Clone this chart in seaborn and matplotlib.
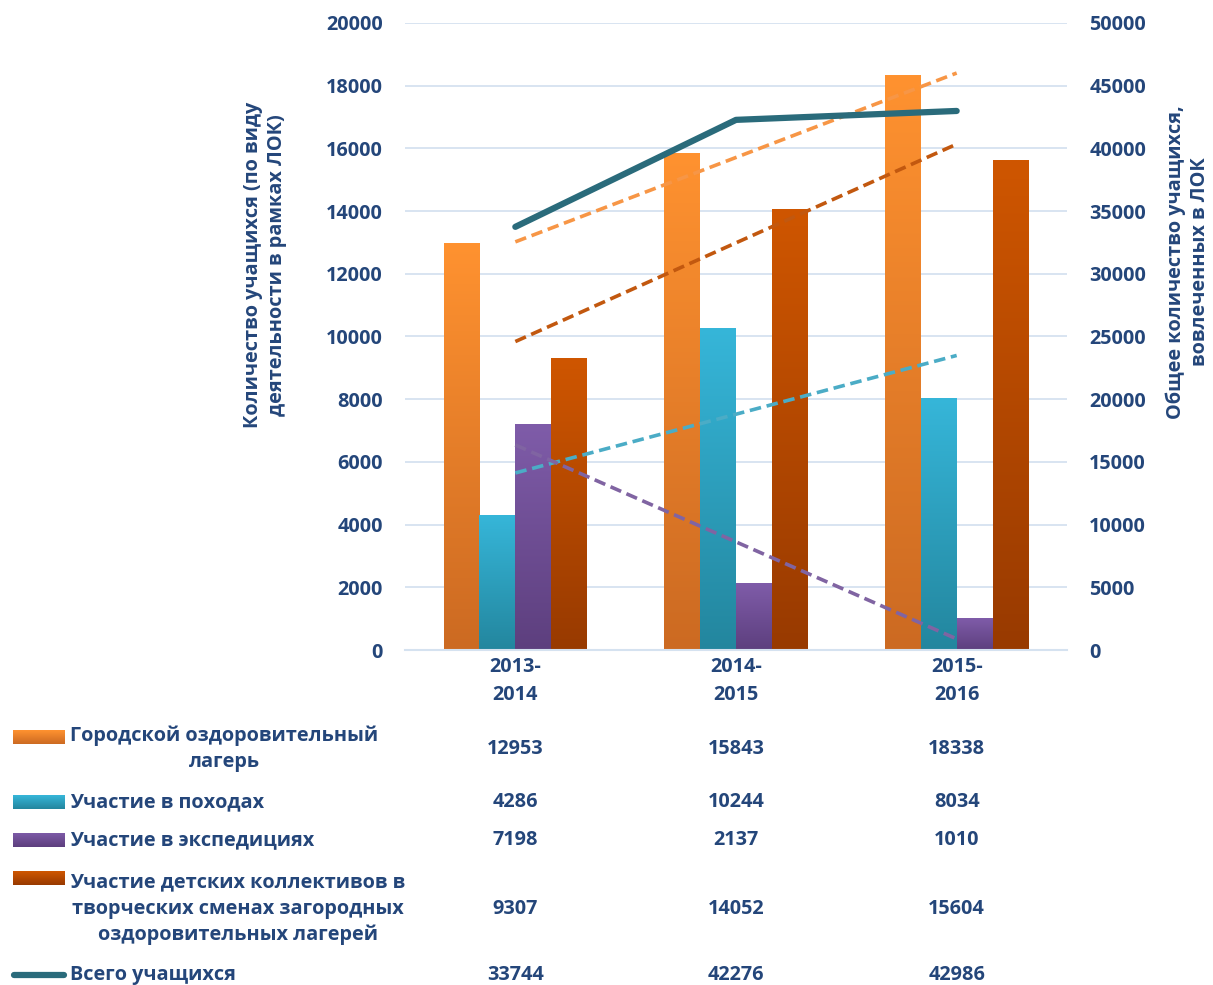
import numpy as np
import pandas as pd
import matplotlib
matplotlib.use("Agg")
import matplotlib.pyplot as plt
import matplotlib.transforms as mtransforms
from matplotlib.colors import LinearSegmentedColormap
import seaborn as sns

# ---------------- data ----------------
years = ["2013-\n2014", "2014-\n2015", "2015-\n2016"]
series_names = [
    "Городской оздоровительный\nлагерь",
    "Участие в походах",
    "Участие в экспедициях",
    "Участие детских коллективов в\nтворческих сменах загородных\nоздоровительных лагерей",
]
camp = [12953, 15843, 18338]
hikes = [4286, 10244, 8034]
expeditions = [7198, 2137, 1010]
creative = [9307, 14052, 15604]
total_name = "Всего учащихся"
total = [33744, 42276, 42986]

left_label = "Количество учащихся (по виду\nдеятельности в рамках ЛОК)"
right_label = "Общее количество учащихся,\nвовлеченных в ЛОК"

# ---------------- style ----------------
sns.set_theme(style="white")
plt.rcParams["font.family"] = ["Open Sans", "DejaVu Sans"]
plt.rcParams["font.weight"] = "bold"
TXT = "#24467A"
FS = 14.3

grad = [("#FF9230", "#CC6A22"), ("#36B6D9", "#23869E"),
        ("#7F5CA9", "#5D3F7E"), ("#CF5600", "#983A00")]
trend_cols = ["#F79646", "#4BACC6", "#8064A2", "#C2580F"]
line_col = "#2A6B7B"

W, H = 1213, 985
fig = plt.figure(figsize=(W / 100, H / 100), dpi=100)
ax = fig.add_axes([405 / W, 1 - 650 / H, 662 / W, 627 / H])

all_series = [camp, hikes, expeditions, creative]
df = pd.DataFrame({
    "year": [y for y in years for _ in range(4)],
    "series": [s for _ in years for s in series_names],
    "value": [all_series[j][i] for i in range(3) for j in range(4)],
})
sns.barplot(data=df, x="year", y="value", hue="series", order=years,
            hue_order=series_names, palette=[g[0] for g in grad],
            width=0.65, gap=0, ax=ax, legend=False, saturation=1, zorder=2)

ax.set_ylim(0, 20000)
ax.set_xlim(-0.5, 2.5)

# gradient fill for bars
for k, bar in enumerate(ax.patches):
    j = k // 3
    cmap = LinearSegmentedColormap.from_list("g", [grad[j][1], grad[j][0]])
    x0, w, h = bar.get_x(), bar.get_width(), bar.get_height()
    ax.imshow(np.linspace(0, 1, 256).reshape(-1, 1), cmap=cmap, origin="lower",
              extent=[x0, x0 + w, 0, h], aspect="auto", zorder=2)
    bar.set_visible(False)
ax.set_xlim(-0.5, 2.5)
ax.set_ylim(0, 20000)

# trendlines
xs = np.arange(3)
for j, s in enumerate(all_series):
    sns.regplot(x=xs, y=np.array(s, dtype=float), scatter=False, ci=None,
                truncate=True, ax=ax, color=trend_cols[j],
                line_kws=dict(ls=(0, (3.2, 1.6)), lw=2.6, zorder=4))

ax.set_yticks(np.arange(0, 20001, 2000))
ax.grid(axis="y", color="#D5E2F0", lw=1.3, zorder=0)
ax.set_axisbelow(True)
for sp in ["top", "right", "left"]:
    ax.spines[sp].set_visible(False)
ax.spines["bottom"].set_color("#D5E2F0")
ax.spines["bottom"].set_linewidth(1.5)
ax.tick_params(axis="both", length=0, labelsize=FS, labelcolor=TXT)
ax.tick_params(axis="y", pad=16)
ax.tick_params(axis="x", pad=5)
for t in ax.get_xticklabels():
    t.set_linespacing(1.55)
for t in ax.get_xticklabels() + ax.get_yticklabels():
    t.set_fontweight("bold")
ax.set_xlabel("")
ax.set_ylabel(left_label, fontsize=FS, color=TXT, fontweight="bold",
              linespacing=1.3)
ax.yaxis.label.set_va("center")
ax.yaxis.set_label_coords((265 - 405) / 662, (650 - 265) / 627)

# secondary axis with total line
ax2 = ax.twinx()
sns.lineplot(x=xs, y=total, ax=ax2, color=line_col, lw=4.5,
             solid_capstyle="round", zorder=5)
ax2.set_ylim(0, 50000)
ax2.set_yticks(np.arange(0, 50001, 5000))
for sp in ax2.spines.values():
    sp.set_visible(False)
ax2.tick_params(axis="y", length=0, labelsize=FS, labelcolor=TXT, pad=16)
for t in ax2.get_yticklabels():
    t.set_fontweight("bold")
ax2.set_ylabel(right_label, fontsize=FS, color=TXT, fontweight="bold",
               rotation=90, linespacing=1.3)
ax2.yaxis.label.set_va("center")
ax2.yaxis.set_label_coords((1188 - 405) / 662, (650 - 262) / 627)
ax2.grid(False)

# ---------------- data table ----------------
tr = mtransforms.blended_transform_factory(ax.transData, fig.transFigure)
row_y = [749, 802, 840, 909, 975]
key_y = [737, 802, 840, 878]
for j, name in enumerate(series_names):
    yf = 1 - row_y[j] / H
    fig.text(70 / W, yf, name, ha="left", va="center", multialignment="center",
             fontsize=FS, color=TXT, fontweight="bold", linespacing=1.4)
    kax = fig.add_axes([13 / W, 1 - (key_y[j] + 7) / H, 52 / W, 14 / H])
    cmap = LinearSegmentedColormap.from_list("g", [grad[j][1], grad[j][0]])
    kax.imshow(np.linspace(0, 1, 64).reshape(-1, 1), cmap=cmap, origin="lower",
               aspect="auto")
    kax.axis("off")
    for i in range(3):
        ax.text(i, yf, f"{all_series[j][i]}", transform=tr, ha="center",
                va="center", fontsize=FS, color=TXT, fontweight="bold")

yf = 1 - row_y[4] / H
fig.text(70 / W, yf, total_name, ha="left", va="center", fontsize=FS,
         color=TXT, fontweight="bold")
fig.add_artist(plt.Line2D([14 / W, 64 / W], [yf, yf], color=line_col, lw=4.5,
                          solid_capstyle="round", transform=fig.transFigure))
for i in range(3):
    ax.text(i, yf, f"{total[i]}", transform=tr, ha="center", va="center",
            fontsize=FS, color=TXT, fontweight="bold")

fig.savefig("out.png", dpi=100)
